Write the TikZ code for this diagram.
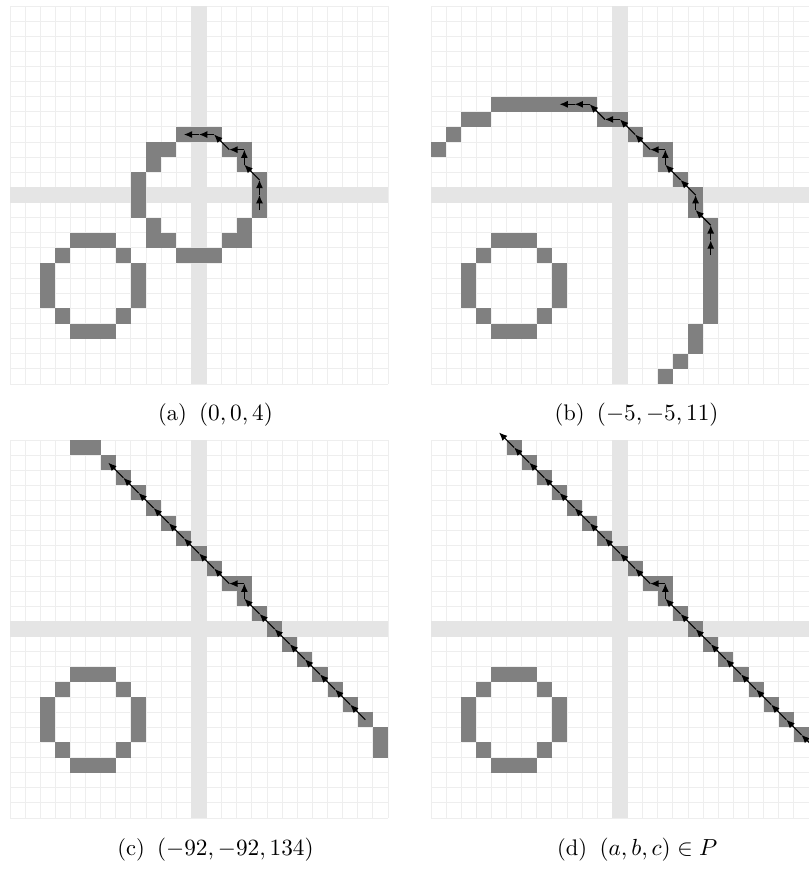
\documentclass[tikz,border=0pt]{standalone}
\usetikzlibrary{arrows.meta}
\definecolor{gridc}{HTML}{EEEEEE}
\definecolor{axisc}{HTML}{E5E5E5}
\definecolor{cellc}{HTML}{808080}
\tikzset{
  gridline/.style={draw=gridc, line width=0.45pt},
  axisband/.style={fill=axisc},
  pix/.style={fill=cellc},
  trace/.style={draw=black, line width=0.55pt, -{Latex[length=3.9pt,width=3.3pt]}},
  captxt/.style={anchor=base, inner sep=0pt, font=\fontsize{10.6pt}{12pt}\selectfont},
}
\newcommand\pixcells[1]{\foreach \cx/\cy in {#1} {\fill[pix] ({\cx-0.5},{\cy-0.5}) rectangle ({\cx+0.5},{\cy+0.5});}}
\newcommand\tracepath[1]{\foreach \px/\py [count=\ti, remember=\px as \lx, remember=\py as \ly] in {#1} {\ifnum\ti>1 \draw[trace] (\lx,\ly) -- (\px,\py);\fi}}
\newcommand\gridpanel{%
  \foreach \gi in {0,...,25} {\draw[gridline] ({\gi-12.5},-12.5) -- ({\gi-12.5},12.5);
    \draw[gridline] (-12.5,{\gi-12.5}) -- (12.5,{\gi-12.5});}
  \fill[axisband] (-0.5,-12.5) rectangle (0.5,12.5);
  \fill[axisband] (-12.5,-0.5) rectangle (12.5,0.5);
  \pixcells{-8/-3,-7/-3,-6/-3,-9/-4,-5/-4,-10/-5,-4/-5,-10/-6,-4/-6,-10/-7,-4/-7,-9/-8,-5/-8,-8/-9,-7/-9,-6/-9}}
\begin{document}
\begin{tikzpicture}[x=0.25cm,y=0.25cm]
\useasboundingbox (0,0) rectangle (53.505,-57.474);
% (a)
\begin{scope}[shift={(13.161,-12.897)}]
  \gridpanel
  \pixcells{-1/4,0/4,1/4,-1/-4,0/-4,1/-4,4/-1,4/0,4/1,-4/-1,-4/0,-4/1,3/2,3/3,2/3,-3/2,-3/3,-2/3,3/-2,3/-3,2/-3,-3/-2,-3/-3,-2/-3}
  \tracepath{4/-1,4/0,4/1,3/2,3/3,2/3,1/4,0/4,-1/4}
\end{scope}
% (b)
\begin{scope}[shift={(41.005,-12.897)}]
  \gridpanel
  \pixcells{6/-8,6/-7,6/-6,6/-5,6/-4,6/-3,6/-2,-8/6,-7/6,-6/6,-5/6,-4/6,-3/6,-2/6,5/-1,5/0,5/-9,5/-10,-1/5,0/5,-9/5,-10/5,4/1,4/-11,1/4,-11/4,3/2,3/3,3/-12,2/3,-12/3}
  \tracepath{6/-4,6/-3,6/-2,5/-1,5/0,4/1,3/2,3/3,2/3,1/4,0/5,-1/5,-2/6,-3/6,-4/6}
\end{scope}
% (c)
\begin{scope}[shift={(13.161,-41.600)}]
  \gridpanel
  \pixcells{-8/12,-7/12,-6/11,-5/10,-4/9,-3/8,-2/7,-1/6,0/5,1/4,2/3,3/3,3/2,4/1,5/0,6/-1,7/-2,8/-3,9/-4,10/-5,11/-6,12/-7,12/-8}
  \tracepath{11/-6,10/-5,9/-4,8/-3,7/-2,6/-1,5/0,4/1,3/2,3/3,2/3,1/4,0/5,-1/6,-2/7,-3/8,-4/9,-5/10,-6/11}
\end{scope}
% (d)
\begin{scope}[shift={(41.005,-41.600)}]
  \gridpanel
  \pixcells{-7/12,-6/11,-5/10,-4/9,-3/8,-2/7,-1/6,0/5,1/4,2/3,3/3,3/2,4/1,5/0,6/-1,7/-2,8/-3,9/-4,10/-5,11/-6,12/-7}
  \tracepath{13/-8,12/-7,11/-6,10/-5,9/-4,8/-3,7/-2,6/-1,5/0,4/1,3/2,3/3,2/3,1/4,0/5,-1/6,-2/7,-3/8,-4/9,-5/10,-6/11,-7/12,-8/13}
\end{scope}
% captions
\node[captxt] (capa) at (14.25,-27.84) {(a)\hspace{0.55em}$(0,0,4)$};
\node[captxt] (capb) at (42.10,-27.84) {(b)\hspace{0.55em}$(-5,-5,11)$};
\node[captxt] (capc) at (14.25,-56.55) {(c)\hspace{0.55em}$(-92,-92,134)$};
\node[captxt] (capd) at (42.15,-56.55) {(d)\hspace{0.55em}$(a,b,c)\in P$};
\end{tikzpicture}
\end{document}
